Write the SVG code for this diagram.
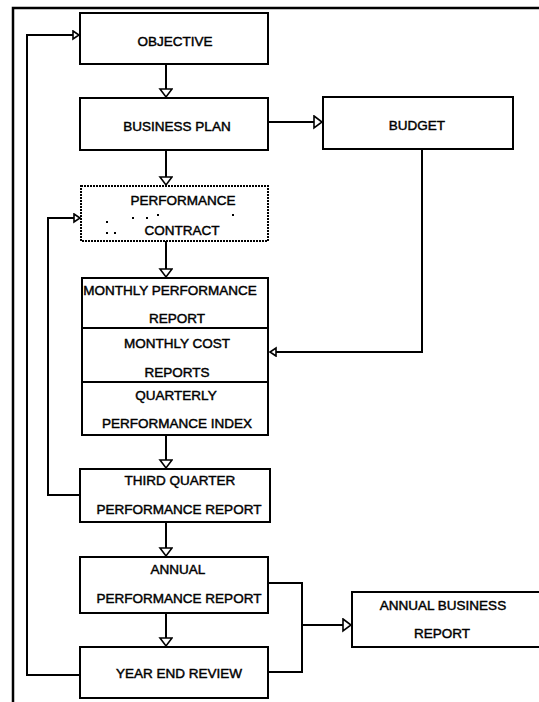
<svg xmlns="http://www.w3.org/2000/svg" width="539" height="702" viewBox="0 0 539 702">
  <style>
    .box { fill: #fff; stroke: #000; stroke-width: 2; }
    .dotted { fill: #fff; stroke: #000; stroke-width: 2; stroke-dasharray: 2 1; }
    .line { fill: none; stroke: #000; stroke-width: 2; }
    .frame { fill: none; stroke: #000; stroke-width: 2.5; }
    text { font-family: "Liberation Sans", Arial, sans-serif; font-size: 13.5px; fill: #000; stroke: #000; stroke-width: 0.45; text-anchor: middle; }
  </style>
  <defs>
    <marker id="arrowBig" markerUnits="userSpaceOnUse" markerWidth="12" markerHeight="16" refX="9" refY="7" orient="auto">
      <path d="M1,1 L9,7 L1,13 Z" fill="#fff" stroke="#000" stroke-width="1.6"/>
    </marker>
    <marker id="arrowSmall" markerUnits="userSpaceOnUse" markerWidth="10" markerHeight="12" refX="7" refY="5" orient="auto">
      <path d="M1,1 L7,5 L1,9 Z" fill="#fff" stroke="#000" stroke-width="1.6"/>
    </marker>
  </defs>

  <!-- outer frame -->
  <path class="frame" d="M13,702 V8 H539"/>

  <g id="connectors">
    <line class="line" x1="166" y1="64" x2="166" y2="97" marker-end="url(#arrowBig)"/>
    <line class="line" x1="166" y1="150" x2="166" y2="185" marker-end="url(#arrowBig)"/>
    <line class="line" x1="166" y1="241" x2="166" y2="277" marker-end="url(#arrowBig)"/>
    <line class="line" x1="166" y1="435" x2="166" y2="468" marker-end="url(#arrowBig)"/>
    <line class="line" x1="166" y1="522" x2="166" y2="556" marker-end="url(#arrowBig)"/>
    <line class="line" x1="166" y1="613" x2="166" y2="646" marker-end="url(#arrowBig)"/>
    <line class="line" x1="268" y1="122" x2="322" y2="122" marker-end="url(#arrowBig)"/>
    <polyline class="line" points="422,149 422,352 270,352" marker-end="url(#arrowSmall)"/>
    <polyline class="line" points="80,675 27,675 27,35 79,35" marker-end="url(#arrowSmall)"/>
    <polyline class="line" points="80,495 48,495 48,218 80,218" marker-end="url(#arrowSmall)"/>
    <polyline class="line" points="268,583 302,583 302,672 268,672"/>
    <line class="line" x1="302" y1="625" x2="351" y2="625" marker-end="url(#arrowBig)"/>
  </g>

  <g id="objective">
    <rect class="box" x="80" y="13" width="188" height="51"/>
    <text x="175" y="46">OBJECTIVE</text>
  </g>

  <g id="business-plan">
    <rect class="box" x="80" y="98" width="188" height="52"/>
    <text x="177" y="131">BUSINESS PLAN</text>
  </g>

  <g id="budget">
    <rect class="box" x="323" y="97" width="190" height="52"/>
    <text x="417" y="130">BUDGET</text>
  </g>

  <g id="performance-contract">
    <rect class="dotted" x="81" y="186" width="187" height="55"/>
    <g fill="#000">
      <rect x="132" y="217" width="2" height="2"/>
      <rect x="146" y="217" width="2" height="2"/>
      <rect x="157" y="214" width="2" height="2"/>
      <rect x="232" y="214" width="2" height="2"/>
      <rect x="106" y="221" width="2" height="2"/>
      <rect x="106" y="232" width="2" height="2"/>
      <rect x="114" y="232" width="2" height="2"/>
    </g>
    <text x="183" y="205">PERFORMANCE</text>
    <text x="182" y="235">CONTRACT</text>
  </g>

  <g id="monthly-reports">
    <rect class="box" x="82" y="278" width="186" height="157"/>
    <line class="line" x1="82" y1="328" x2="268" y2="328"/>
    <line class="line" x1="82" y1="382" x2="268" y2="382"/>
    <text x="170" y="295">MONTHLY PERFORMANCE</text>
    <text x="177" y="323">REPORT</text>
    <text x="177" y="348">MONTHLY COST</text>
    <text x="177" y="377">REPORTS</text>
    <text x="176" y="400">QUARTERLY</text>
    <text x="177" y="428">PERFORMANCE INDEX</text>
  </g>

  <g id="third-quarter">
    <rect class="box" x="80" y="469" width="190" height="53"/>
    <text x="180" y="485">THIRD QUARTER</text>
    <text x="179" y="514">PERFORMANCE REPORT</text>
  </g>

  <g id="annual-performance">
    <rect class="box" x="80" y="557" width="188" height="56"/>
    <text x="178" y="574">ANNUAL</text>
    <text x="179" y="603">PERFORMANCE REPORT</text>
  </g>

  <g id="year-end-review">
    <rect class="box" x="80" y="647" width="188" height="51"/>
    <text x="179" y="678">YEAR END REVIEW</text>
  </g>

  <g id="annual-business-report">
    <rect class="box" x="352" y="592" width="200" height="55"/>
    <text x="443" y="610">ANNUAL BUSINESS</text>
    <text x="442" y="638">REPORT</text>
  </g>
</svg>
